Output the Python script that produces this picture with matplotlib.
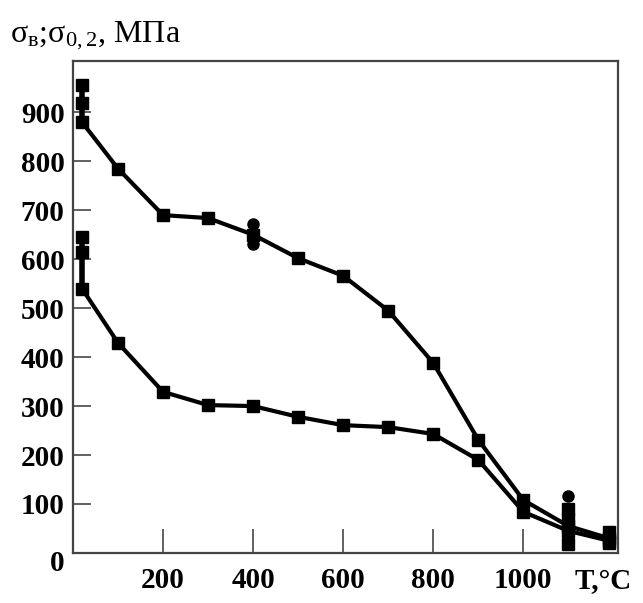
import matplotlib.pyplot as plt
from matplotlib.transforms import ScaledTranslation

plt.rcParams['font.family'] = ['Liberation Serif', 'DejaVu Serif']
plt.rcParams['mathtext.fontset'] = 'custom'
plt.rcParams['mathtext.rm'] = 'Liberation Serif'
plt.rcParams['mathtext.it'] = 'Liberation Serif'
plt.rcParams['mathtext.bf'] = 'Liberation Serif:bold'

# sigma_B (upper curve)
t_b = [20, 100, 200, 300, 400, 500, 600, 700, 800, 900, 1000, 1100, 1190]
s_b = [880, 785, 690, 684, 650, 602, 566, 495, 388, 231, 108, 55, 30]
# scattered extra measurements for sigma_B
t_b_sq = [20, 20, 1190]
s_b_sq = [955, 920, 42]
t_b_circ = [400, 400, 1100]
s_b_circ = [672, 632, 116]

# sigma_0.2 (lower curve)
t_02 = [20, 100, 200, 300, 400, 500, 600, 700, 800, 900, 1000, 1100, 1190]
s_02 = [540, 429, 329, 302, 300, 278, 261, 257, 243, 190, 84, 45, 25]
t_02_extra = [20, 20, 1100, 1100, 1100, 1190]
s_02_extra = [645, 615, 90, 70, 18, 20]

xticks = [200, 400, 600, 800, 1000]
yticks = [0, 100, 200, 300, 400, 500, 600, 700, 800, 900]

fig = plt.figure(figsize=(6.43, 6.03), dpi=100)
ax = fig.add_axes([0.1135, 0.083, 0.8475, 0.816])

ax.plot(t_b, s_b, color='black', lw=3, marker='s', ms=8, clip_on=False, zorder=3)
ax.plot(t_02, s_02, color='black', lw=3, marker='s', ms=8, clip_on=False, zorder=3)
ax.plot(t_b_sq, s_b_sq, 's', color='black', ms=8, clip_on=False, zorder=3)
ax.plot(t_b_circ, s_b_circ, 'o', color='black', ms=8, clip_on=False, zorder=3)
ax.plot(t_02_extra, s_02_extra, 's', color='black', ms=9, clip_on=False, zorder=3)
# vertical scatter bars
ax.vlines([20, 20, 1100], [880, 540, 18], [955, 645, 95], color='black', lw=4, zorder=2)

ax.set_xlim(0, 1210)
ax.set_ylim(0, 1005)
ax.set_xticks(xticks)
ax.set_yticks(yticks)
ax.tick_params(direction='in', length=13, width=1.3, color='#555555',
               labelsize=21, pad=6)
ax.tick_params(axis='x', length=17, pad=10)
for lab in ax.get_xticklabels() + ax.get_yticklabels():
    lab.set_fontweight('bold')
# the zero label sits a little lower in the original
ylabs = ax.get_yticklabels()
ylabs[0].set_transform(ylabs[0].get_transform() + ScaledTranslation(0, -0.08, fig.dpi_scale_trans))
for s in ax.spines.values():
    s.set_linewidth(1.6)
    s.set_color('#444444')

fig.text(0.893, 0.036, 'T,°C', fontsize=21, fontweight='bold', ha='left', va='center')
fig.text(0.015, 0.94, r'$\mathrm{σ}_{\mathrm{в}}$;$\mathrm{σ}_{\mathrm{0,2}}$, МПа',
         fontsize=23, ha='left', va='center')

fig.savefig('out.png', dpi=100)
